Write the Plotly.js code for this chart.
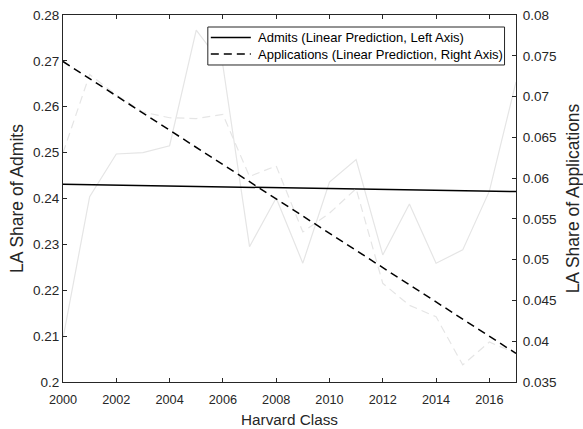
<!DOCTYPE html>
<html>
<head>
<meta charset="utf-8">
<script src="https://cdn.plot.ly/plotly-3.0.1.min.js"></script>
<style>html,body{margin:0;padding:0;background:#fff;}#chart{width:583px;height:429px;}</style>
</head>
<body>
<div id="chart"></div>
<script>
// Harvard class years
const years = [2000,2001,2002,2003,2004,2005,2006,2007,2008,2009,2010,2011,2012,2013,2014,2015,2016,2017];
// LA share of admits (actual, left axis)
const admitsShare = [0.2095,0.2404,0.2497,0.2500,0.2515,0.2767,0.2690,0.2295,0.2401,0.2259,0.2436,0.2485,0.2277,0.2388,0.2259,0.2288,0.2416,0.2654];
// LA share of applications (actual, right axis)
const appsShare = [0.0631,0.0727,0.0702,0.0681,0.0674,0.0673,0.0678,0.0602,0.0615,0.0534,0.0557,0.0587,0.0471,0.0444,0.0430,0.0371,0.0399,0.0385];
// Linear predictions (endpoints)
const predYears = [2000, 2017];
const admitsPred = [0.2431, 0.2415];
const appsPred = [0.0743, 0.0385];
const xTicks = [2000,2002,2004,2006,2008,2010,2012,2014,2016];
const legendLabels = ['Admits (Linear Prediction, Left Axis)', 'Applications (Linear Prediction, Right Axis)'];

const gray = '#e5e5e5';
const axisColor = '#262626';
const font = 'Liberation Sans, Arial, Helvetica, sans-serif';
const dashPat = '8px,5px';

const traces = [
  {x: years, y: admitsShare, type: 'scatter', mode: 'lines', yaxis: 'y',
   line: {color: gray, width: 1.2}, showlegend: false, hoverinfo: 'skip'},
  {x: years, y: appsShare, type: 'scatter', mode: 'lines', yaxis: 'y2',
   line: {color: gray, width: 1.2, dash: dashPat}, showlegend: false, hoverinfo: 'skip'},
  {x: predYears, y: admitsPred, type: 'scatter', mode: 'lines', yaxis: 'y',
   name: legendLabels[0], showlegend: false, line: {color: '#000', width: 1.5}},
  {x: predYears, y: appsPred, type: 'scatter', mode: 'lines', yaxis: 'y2',
   name: legendLabels[1], showlegend: false, line: {color: '#000', width: 1.5, dash: dashPat}}
];

// Legend box drawn in paper coordinates (MATLAB-style compact legend)
const lg = {x0: 0.3197, x1: 0.9747, y0: 0.8638, y1: 0.9673, s0: 0.3263, s1: 0.4146, tx: 0.4256, rows: [0.9387, 0.8937]};
const shapes = [
  {type: 'rect', xref: 'paper', yref: 'paper', x0: lg.x0, x1: lg.x1, y0: lg.y0, y1: lg.y1,
   fillcolor: '#fff', line: {color: axisColor, width: 1}, layer: 'above'},
  {type: 'line', xref: 'paper', yref: 'paper', x0: lg.s0, x1: lg.s1, y0: lg.rows[0], y1: lg.rows[0],
   line: {color: '#000', width: 1.5}, layer: 'above'},
  {type: 'line', xref: 'paper', yref: 'paper', x0: lg.s0, x1: lg.s1, y0: lg.rows[1], y1: lg.rows[1],
   line: {color: '#000', width: 1.5, dash: dashPat}, layer: 'above'}
];
const annotations = legendLabels.map((t, i) => ({
  text: t, xref: 'paper', yref: 'paper', x: lg.tx, y: lg.rows[i], xanchor: 'left', yanchor: 'middle',
  showarrow: false, font: {family: font, size: 13, color: '#000'}
}));

const layout = {
  width: 583, height: 429,
  margin: {l: 63, r: 66.5, t: 15, b: 47, pad: 0},
  paper_bgcolor: '#fff', plot_bgcolor: '#fff',
  font: {family: font, size: 12, color: axisColor},
  showlegend: false,
  shapes: shapes,
  annotations: annotations,
  xaxis: {range: [2000, 2017], tickvals: xTicks, ticks: 'inside', ticklen: 4,
    tickcolor: axisColor, showline: true, linecolor: axisColor, linewidth: 1,
    mirror: 'ticks', showgrid: false, zeroline: false, ticklabelstandoff: 6,
    tickfont: {size: 12.7, color: axisColor}, automargin: false,
    title: {text: 'Harvard Class', font: {size: 15.3, color: axisColor}, standoff: 8}},
  yaxis: {range: [0.2, 0.28], dtick: 0.01, tick0: 0.2, ticks: 'inside', ticklen: 4,
    tickcolor: axisColor, showline: true, linecolor: axisColor, linewidth: 1,
    showgrid: false, zeroline: false, tickfont: {size: 13.5, color: axisColor}, automargin: false,
    title: {text: 'LA Share of Admits', font: {size: 17.5, color: axisColor}, standoff: 4}},
  yaxis2: {range: [0.035, 0.08], dtick: 0.005, tick0: 0.035, overlaying: 'y', side: 'right',
    ticks: 'inside', ticklen: 4, tickcolor: axisColor, showline: true, linecolor: axisColor,
    linewidth: 1, showgrid: false, zeroline: false, tickfont: {size: 13.5, color: axisColor},
    ticklabelstandoff: 3, automargin: false,
    title: {text: 'LA Share of Applications', font: {size: 17.5, color: axisColor}, standoff: 12}}
};

Plotly.newPlot('chart', traces, layout, {displayModeBar: false, staticPlot: true});
</script>
</body>
</html>
